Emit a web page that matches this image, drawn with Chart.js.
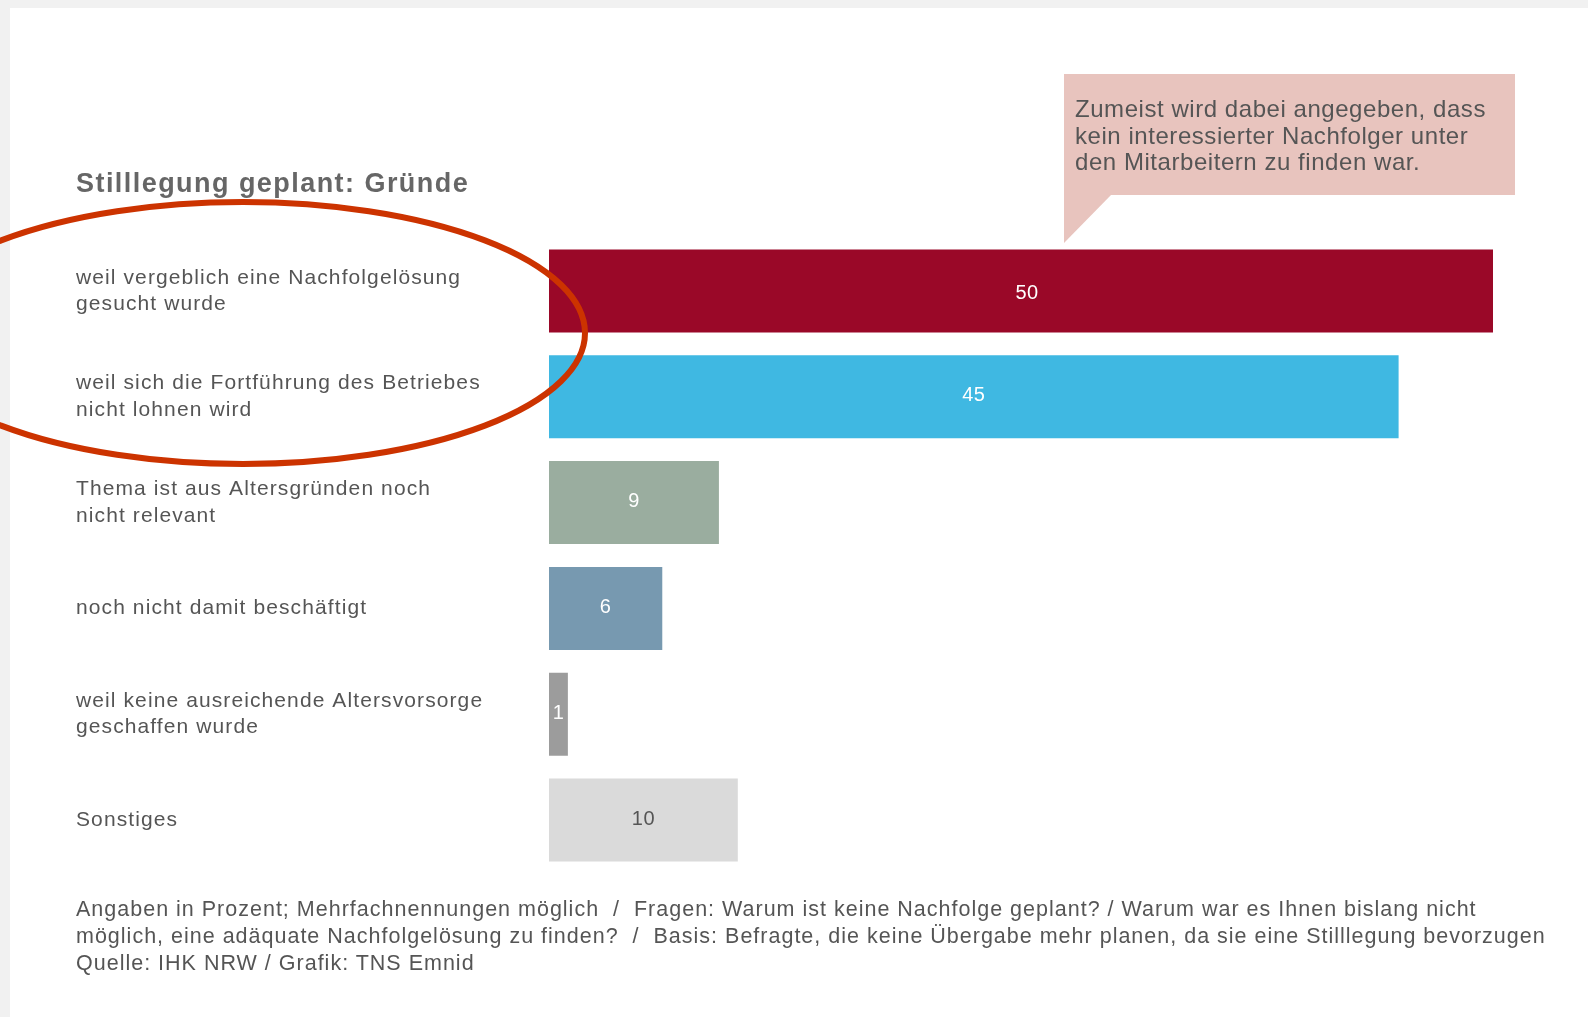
<!DOCTYPE html>
<html>
<head>
<meta charset="utf-8">
<script src="https://cdn.jsdelivr.net/npm/chart.js@4.4.0/dist/chart.umd.min.js"></script>
<style>
  body { margin: 0; width: 1588px; height: 1017px; background: #f1f1f1; overflow: hidden; font-family: "Liberation Sans", Arial, sans-serif; }
  #panel { position: absolute; left: 10px; top: 8px; width: 1578px; height: 1009px; background: #fff; }
  #chart { position: absolute; left: 0; top: 0; }
  .txt { position: absolute; color: #555; white-space: nowrap; }
  #title { left: 76px; top: 168px; font-size: 27px; line-height: 30px; font-weight: bold; color: #666; letter-spacing: 1.45px; }
  #note { left: 1075px; top: 96px; font-size: 24px; line-height: 26.5px; letter-spacing: 0.55px; }
  #footer { left: 76px; top: 896px; font-size: 21.5px; line-height: 27px; letter-spacing: 1px; }
</style>
</head>
<body>
<div id="panel"></div>
<canvas id="chart" width="1588" height="1017"></canvas>
<div class="txt" id="title">Stilllegung geplant: Gründe</div>
<div class="txt" id="note">Zumeist wird dabei angegeben, dass<br>kein interessierter Nachfolger unter<br>den Mitarbeitern zu finden war.</div>
<div class="txt" id="footer">Angaben in Prozent; Mehrfachnennungen möglich&nbsp; /&nbsp; Fragen: Warum ist keine Nachfolge geplant? / Warum war es Ihnen bislang nicht<br>möglich, eine adäquate Nachfolgelösung zu finden?&nbsp; /&nbsp; Basis: Befragte, die keine Übergabe mehr planen, da sie eine Stilllegung bevorzugen<br>Quelle: IHK NRW / Grafik: TNS Emnid</div>
<script>
// categories (multi-line labels) and values in percent
var reasons = [
  ["weil vergeblich eine Nachfolgelösung", "gesucht wurde"],
  ["weil sich die Fortführung des Betriebes", "nicht lohnen wird"],
  ["Thema ist aus Altersgründen noch", "nicht relevant"],
  "noch nicht damit beschäftigt",
  ["weil keine ausreichende Altersvorsorge", "geschaffen wurde"],
  "Sonstiges"
];
var shares = [50, 45, 9, 6, 1, 10];
var barColors = ["#9a0828", "#3fb8e2", "#9aad9f", "#7799b0", "#9c9c9c", "#dadada"];
var valueColors = ["#fff", "#fff", "#fff", "#fff", "#fff", "#555"];

// draws the callout box behind the bars
var calloutBox = {
  id: 'calloutBox',
  beforeDraw: function(chart) {
    var c = chart.ctx;
    c.save();
    c.fillStyle = "#e8c4be";
    c.fillRect(1064, 74, 451, 121);
    c.beginPath();
    c.moveTo(1064, 194);
    c.lineTo(1112, 194);
    c.lineTo(1064, 243);
    c.closePath();
    c.fill();
    c.restore();
    // the source font is wider, spread the tick labels a bit
    c.letterSpacing = "1.1px";
  }
};

// numbers inside the bars + red ellipse
var barValues = {
  id: 'barValues',
  afterDraw: function(chart) {
    var c = chart.ctx;
    var meta = chart.getDatasetMeta(0);
    c.save();
    c.letterSpacing = "0.5px";
    c.font = "20px 'Liberation Sans', Arial, sans-serif";
    c.textAlign = "center";
    c.textBaseline = "middle";
    meta.data.forEach(function(bar, i) {
      c.fillStyle = valueColors[i];
      c.fillText(shares[i], (bar.x + bar.base) / 2 + (i == 0 ? 6 : 0), bar.y + (i == 0 ? 3 : -1));
    });
    c.strokeStyle = "#cc3300";
    c.lineWidth = 6;
    c.beginPath();
    c.ellipse(243, 333, 342, 131, 0, 0, Math.PI * 2);
    c.stroke();
    c.restore();
  }
};

new Chart(document.getElementById('chart'), {
  type: 'bar',
  data: {
    labels: reasons,
    datasets: [{
      data: shares,
      backgroundColor: barColors,
      categoryPercentage: 0.785,
      barPercentage: 1
    }]
  },
  options: {
    indexAxis: 'y',
    responsive: false,
    animation: false,
    layout: { padding: { left: 76, right: 95, top: 238, bottom: 144 } },
    plugins: { legend: { display: false }, tooltip: { enabled: false } },
    scales: {
      x: { display: false, min: 0, max: 50 },
      y: {
        grid: { display: false },
        border: { display: false },
        afterFit: function(axis) { axis.width = 473; },
        ticks: {
          crossAlign: 'far',
          color: '#555',
          font: { family: "'Liberation Sans', Arial, sans-serif", size: 21, lineHeight: 1.25 }
        }
      }
    }
  },
  plugins: [calloutBox, barValues]
});
</script>
</body>
</html>
